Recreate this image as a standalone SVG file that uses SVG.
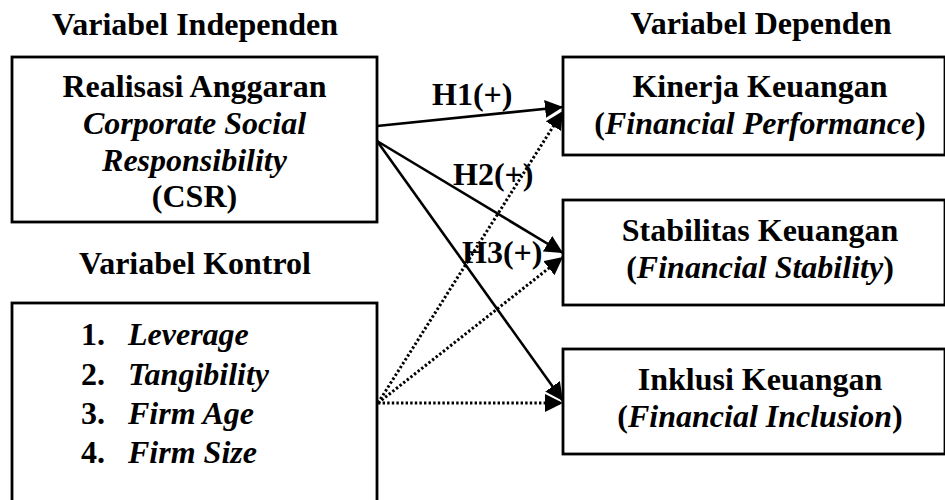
<svg xmlns="http://www.w3.org/2000/svg" width="945" height="500" viewBox="0 0 945 500">
<style>
  text { font-family: "Liberation Serif", "Times New Roman", serif; font-weight: bold; font-size: 32px; fill: #000; }
  .i { font-style: italic; }
  .box { fill: #fff; stroke: #000; stroke-width: 2.8; }
  .solid { stroke: #000; stroke-width: 2.6; fill: none; marker-end: url(#ah); }
  .dot { stroke: #000; stroke-width: 3; fill: none; stroke-dasharray: 2.4 2.2; marker-end: url(#ah); }
</style>
<defs>
  <marker id="ah" markerUnits="userSpaceOnUse" markerWidth="19" markerHeight="18" refX="18" refY="9" orient="auto">
    <path d="M0,0 L18,9 L0,18 Z" fill="#000"/>
  </marker>
</defs>
<rect width="945" height="500" fill="#fff"/>

<text x="195" y="35" text-anchor="middle">Variabel Independen</text>
<text x="761" y="34" text-anchor="middle">Variabel Dependen</text>
<text x="195" y="274" text-anchor="middle">Variabel Kontrol</text>

<g id="csr">
  <rect class="box" x="12" y="57" width="365" height="165"/>
  <text x="194.5" y="97" text-anchor="middle">Realisasi Anggaran</text>
  <text x="194.5" y="134" text-anchor="middle" class="i">Corporate Social</text>
  <text x="194.5" y="171" text-anchor="middle" class="i">Responsibility</text>
  <text x="194.5" y="207" text-anchor="middle">(CSR)</text>
</g>

<g id="kontrol">
  <rect class="box" x="12" y="303" width="365" height="220"/>
  <text x="81" y="345">1.</text><text x="128" y="345" class="i">Leverage</text>
  <text x="81" y="385">2.</text><text x="128" y="385" class="i">Tangibility</text>
  <text x="81" y="424">3.</text><text x="128" y="424" class="i">Firm Age</text>
  <text x="81" y="463">4.</text><text x="128" y="463" class="i">Firm Size</text>
</g>

<g id="kinerja">
  <rect class="box" x="563" y="57" width="382" height="98"/>
  <text x="760" y="97" text-anchor="middle">Kinerja Keuangan</text>
  <text x="760" y="134" text-anchor="middle">(<tspan class="i">Financial Performance</tspan>)</text>
</g>

<g id="stabilitas">
  <rect class="box" x="563" y="200" width="382" height="105"/>
  <text x="760" y="241" text-anchor="middle">Stabilitas Keuangan</text>
  <text x="760" y="278" text-anchor="middle">(<tspan class="i">Financial Stability</tspan>)</text>
</g>

<g id="inklusi">
  <rect class="box" x="563" y="349" width="382" height="105"/>
  <text x="760" y="390" text-anchor="middle">Inklusi Keuangan</text>
  <text x="760" y="427" text-anchor="middle">(<tspan class="i">Financial Inclusion</tspan>)</text>
</g>

<g id="connectors">
  <line class="solid" x1="377" y1="126" x2="563" y2="107"/>
  <line class="solid" x1="377" y1="141" x2="563" y2="253"/>
  <line class="solid" x1="377" y1="141" x2="563" y2="401"/>
  <line class="dot" x1="378" y1="403" x2="563" y2="111"/>
  <line class="dot" x1="378" y1="403" x2="563" y2="257"/>
  <line class="dot" x1="378" y1="403" x2="563" y2="403"/>
  <text x="432" y="105">H1(+)</text>
  <text x="453" y="185">H2(+)</text>
  <text x="462" y="263">H3(+)</text>
</g>
</svg>
